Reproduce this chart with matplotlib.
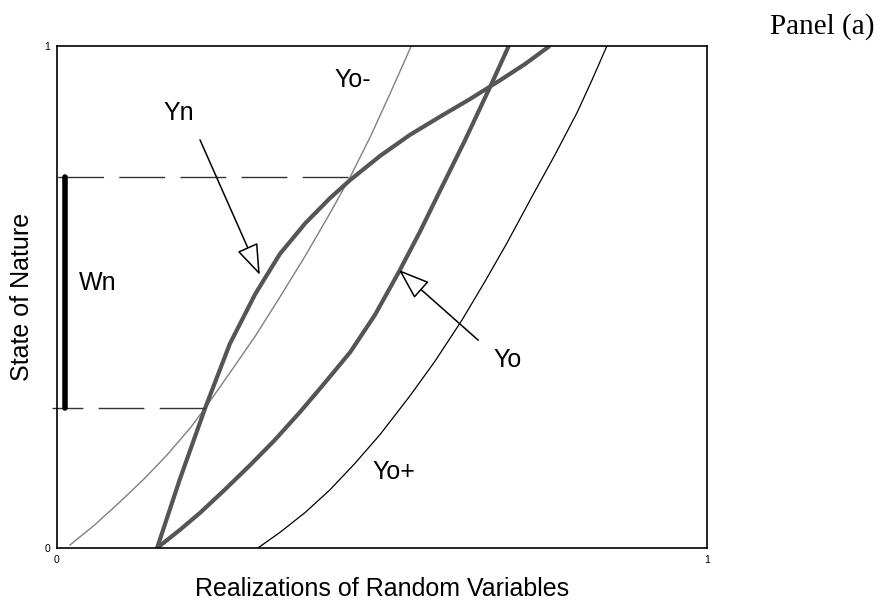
import matplotlib
matplotlib.use("Agg")
import matplotlib.pyplot as plt

# ---- data ----
yo_minus_x = [0.020, 0.058, 0.097, 0.135, 0.169, 0.205, 0.228, 0.266, 0.305,
              0.343, 0.382, 0.420, 0.451, 0.482, 0.512, 0.545]
yo_minus_y = [0.006, 0.046, 0.092, 0.139, 0.185, 0.239, 0.279, 0.349, 0.422,
              0.500, 0.582, 0.667, 0.739, 0.819, 0.904, 1.000]

yn_x = [0.154, 0.189, 0.228, 0.266, 0.305, 0.343, 0.382, 0.420, 0.451, 0.497,
        0.543, 0.589, 0.635, 0.682, 0.720, 0.758]
yn_y = [0.000, 0.137, 0.279, 0.407, 0.506, 0.586, 0.647, 0.697, 0.733, 0.781,
        0.823, 0.859, 0.894, 0.932, 0.964, 1.000]

yo_x = [0.154, 0.189, 0.220, 0.258, 0.297, 0.335, 0.374, 0.412, 0.451, 0.489,
        0.526, 0.558, 0.589, 0.628, 0.669, 0.695]
yo_y = [0.000, 0.036, 0.070, 0.116, 0.165, 0.215, 0.271, 0.329, 0.390, 0.464,
        0.550, 0.629, 0.711, 0.813, 0.926, 1.000]

yo_plus_x = [0.309, 0.343, 0.382, 0.420, 0.458, 0.497, 0.543, 0.582, 0.623,
             0.658, 0.692, 0.732, 0.766, 0.800, 0.823, 0.846]
yo_plus_y = [0.000, 0.031, 0.071, 0.116, 0.168, 0.226, 0.303, 0.373, 0.454,
             0.530, 0.607, 0.703, 0.783, 0.867, 0.932, 1.000]

wn_low, wn_high = 0.279, 0.739
wn_x = 0.013
dash_left = -0.008
dash_upper_right = 0.448
dash_lower_right = 0.228

x_ticks = [0, 1]
y_ticks = [0, 1]
tick_labels = ["0", "1"]

fig = plt.figure(figsize=(8.82, 6.03), dpi=100)
ax = fig.add_axes([57/882, 55/603, 650/882, 502/603])
ax.set_xlim(0, 1)
ax.set_ylim(0, 1)

font = "Liberation Sans"

ax.plot(yo_minus_x, yo_minus_y, color="#808080", lw=1.0)
ax.plot(yo_plus_x, yo_plus_y, color="black", lw=0.9)
ax.plot(yn_x, yn_y, color="#555555", lw=3.0, solid_capstyle="butt",
        solid_joinstyle="round")
ax.plot(yo_x, yo_y, color="#555555", lw=3.0, solid_capstyle="butt",
        solid_joinstyle="round")

# dashed guide lines (drawn from right to left)
ax.plot([dash_upper_right, dash_left], [wn_high, wn_high], color="#333333",
        lw=1.0, linestyle=(0, (33, 11)), clip_on=False)
ax.plot([dash_lower_right, dash_left], [wn_low, wn_low], color="#333333",
        lw=1.0, linestyle=(0, (33, 11)), clip_on=False)

# Wn bar
ax.plot([wn_x, wn_x], [wn_low, wn_high], color="black", lw=4.0,
        solid_capstyle="round")

# arrows
arrow_kw = dict(arrowstyle="-|>,head_length=1.4,head_width=0.5",
                mutation_scale=14, fc="white", ec="black", lw=1.1,
                shrinkA=0, shrinkB=0)
ax.annotate("", xy=(0.312, 0.544), xytext=(0.220, 0.813), arrowprops=arrow_kw)
ax.annotate("", xy=(0.526, 0.554), xytext=(0.648, 0.414), arrowprops=arrow_kw)

lab = dict(fontsize=18, family=font, ha="center", va="center")
ax.text(0.455, 0.932, "Yo-", **lab)
ax.text(0.188, 0.867, "Yn", **lab)
ax.text(0.063, 0.528, "Wn", **lab)
ax.text(0.694, 0.375, "Yo", **lab)
ax.text(0.518, 0.151, "Yo+", **lab)

ax.set_xticks(x_ticks)
ax.set_yticks(y_ticks)
ax.set_xticklabels(tick_labels, fontsize=7.5, family=font)
ax.set_yticklabels(tick_labels, fontsize=7.5, family=font)
ax.tick_params(length=0, pad=5)

for s in ax.spines.values():
    s.set_linewidth(1.2)

ax.set_xlabel("Realizations of Random Variables", fontsize=18, family=font,
              labelpad=9)
ax.set_ylabel("State of Nature", fontsize=18, family=font, labelpad=7)

fig.text(875/882, 1 - 34/603, "Panel (a)", fontsize=21,
         family="Liberation Serif", ha="right", va="baseline")

fig.savefig("out.png", dpi=100)
